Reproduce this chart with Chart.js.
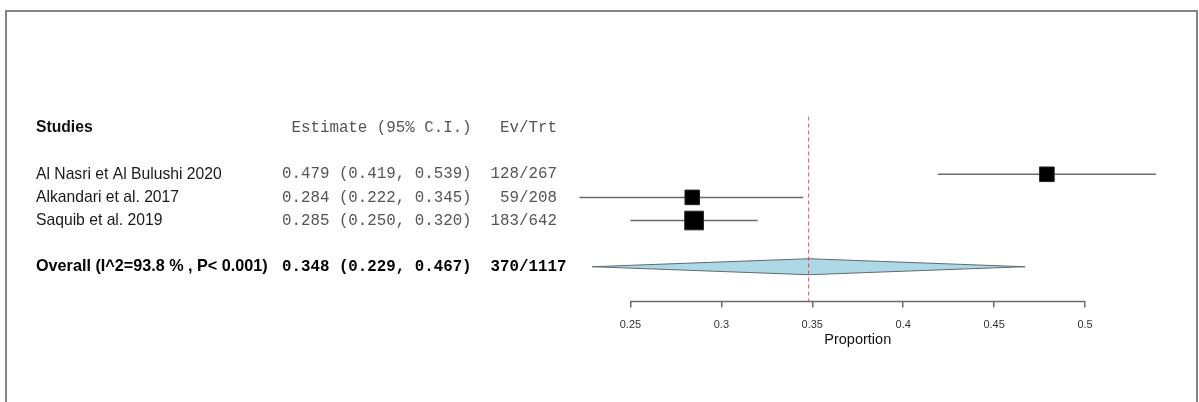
<!DOCTYPE html>
<html>
<head>
<meta charset="utf-8">
<script src="https://cdn.jsdelivr.net/npm/chart.js@4/dist/chart.umd.min.js"></script>
<style>
  body { margin: 0; background: #fff; }
  #marco {
    position: absolute; left: 5px; top: 10px; width: 1189px; height: 400px;
    border: 2px solid #858585; border-bottom: none; pointer-events: none;
  }
  #grafica { position: absolute; left: 0; top: 0; }
</style>
</head>
<body>
<canvas id="grafica" width="1199" height="402"></canvas>
<div id="marco"></div>
<script>
// datos del forest plot
const estudios = ['Al Nasri et Al Bulushi 2020', 'Alkandari et al. 2017', 'Saquib et al. 2019'];
const estimaciones = [0.479, 0.284, 0.285];
const limInf = [0.419, 0.222, 0.250];
const limSup = [0.539, 0.345, 0.320];
const eventos = [128, 59, 183];
const totales = [267, 208, 642];

const etiquetaGlobal = 'Overall (I^2=93.8 % , P< 0.001)';
const global = [0.348, 0.229, 0.467]; // estimacion, inferior, superior
const globalEv = [370, 1117];

const ticksX = [0.25, 0.3, 0.35, 0.4, 0.45, 0.5];

// estilo
const ladoCaja = [10.3, 10.3, 13.2]; // radio del punto 'rect'
const filaEstudio = i => i + 2;
const filaGlobal = 6;
const fuenteMono = '"Liberation Mono", "Courier New", monospace';
const fuenteSans = '"Liberation Sans", Arial, sans-serif';

function textoEstimacion(e, lo, hi) {
  return `${e.toFixed(3)} (${lo.toFixed(3)}, ${hi.toFixed(3)})`;
}

const datasets = [];

// linea de referencia (roja discontinua)
datasets.push({
  type: 'line',
  data: [{ x: global[0], y: -0.5 }, { x: global[0], y: 7.5 }],
  borderColor: 'rgba(232, 50, 50, 0.85)',
  borderWidth: 1,
  borderDash: [4, 3],
  pointRadius: 0,
  order: 0
});

// cajas
datasets.push({
  type: 'scatter',
  data: estimaciones.map((e, i) => ({ x: e, y: filaEstudio(i) })),
  pointStyle: 'rect',
  pointRadius: ladoCaja,
  backgroundColor: '#000',
  borderColor: '#222',
  borderWidth: 1,
  order: 1
});

// intervalos de confianza
estudios.forEach((nombre, i) => {
  datasets.push({
    type: 'line',
    data: [{ x: limInf[i], y: filaEstudio(i) }, { x: limSup[i], y: filaEstudio(i) }],
    borderColor: '#6a6a6a',
    borderWidth: 1.5,
    pointRadius: 0,
    order: 2
  });
});

// diamante + tabla de texto
const pluginForest = {
  id: 'forest',
  beforeDatasetsDraw(chart) {
    const { ctx, scales: { x, y } } = chart;
    const yc = y.getPixelForValue(filaGlobal);
    const h = 8;
    ctx.save();
    ctx.beginPath();
    ctx.moveTo(x.getPixelForValue(global[1]), yc);
    ctx.lineTo(x.getPixelForValue(global[0]), yc - h);
    ctx.lineTo(x.getPixelForValue(global[2]), yc);
    ctx.lineTo(x.getPixelForValue(global[0]), yc + h);
    ctx.closePath();
    ctx.fillStyle = '#add8e6';
    ctx.fill();
    ctx.strokeStyle = '#5f6b70';
    ctx.lineWidth = 1;
    ctx.stroke();

    // eje x solo entre el primer y ultimo tick
    const yb = chart.chartArea.bottom;
    ctx.beginPath();
    ctx.moveTo(x.getPixelForValue(ticksX[0]), yb);
    ctx.lineTo(x.getPixelForValue(ticksX[ticksX.length - 1]), yb);
    ctx.strokeStyle = '#6a6a6a';
    ctx.lineWidth = 1.5;
    ctx.stroke();
    ctx.restore();
  },
  afterDraw(chart) {
    const { ctx, scales: { y } } = chart;
    const xLabel = 36, xEst = 282;
    ctx.save();
    ctx.textBaseline = 'middle';

    // encabezados
    let yy = y.getPixelForValue(0);
    ctx.fillStyle = '#111';
    ctx.font = `bold 15.7px ${fuenteSans}`;
    ctx.fillText('Studies', xLabel, yy);
    ctx.fillStyle = '#555';
    ctx.font = `15.8px ${fuenteMono}`;
    ctx.fillText('Estimate (95% C.I.)'.padStart(20) + '  ' + 'Ev/Trt'.padStart(7), xEst, yy);

    // estudios
    estudios.forEach((nombre, i) => {
      yy = y.getPixelForValue(filaEstudio(i));
      ctx.fillStyle = '#1a1a1a';
      ctx.font = `15.7px ${fuenteSans}`;
      ctx.fillText(nombre, xLabel, yy);
      ctx.fillStyle = '#555';
      ctx.font = `15.8px ${fuenteMono}`;
      const ev = `${eventos[i]}/${totales[i]}`;
      ctx.fillText(textoEstimacion(estimaciones[i], limInf[i], limSup[i]) + '  ' + ev.padStart(7), xEst, yy);
    });

    // global
    yy = y.getPixelForValue(filaGlobal);
    ctx.fillStyle = '#000';
    ctx.font = `bold 16.2px ${fuenteSans}`;
    ctx.fillText(etiquetaGlobal, xLabel, yy);
    ctx.font = `bold 15.8px ${fuenteMono}`;
    ctx.fillText(textoEstimacion(global[0], global[1], global[2]) + '  ' + `${globalEv[0]}/${globalEv[1]}`.padStart(7), xEst, yy);
    ctx.restore();
  }
};

new Chart(document.getElementById('grafica'), {
  data: { datasets },
  options: {
    responsive: false,
    devicePixelRatio: 1,
    animation: false,
    layout: { padding: { left: 539.5, right: 23, top: 116.5, bottom: 50 } },
    plugins: { legend: { display: false }, tooltip: { enabled: false } },
    scales: {
      x: {
        type: 'linear',
        min: 0.2,
        max: 0.55,
        afterBuildTicks: scale => { scale.ticks = ticksX.map(v => ({ value: v })); },
        border: { display: false },
        grid: { drawOnChartArea: false, tickLength: 6, color: '#6a6a6a', lineWidth: 1.5 },
        ticks: {
          padding: 11,
          color: '#333',
          font: { family: fuenteSans, size: 11 },
          callback: v => String(+v.toFixed(2))
        },
        title: {
          display: true,
          text: 'Proportion',
          color: '#111',
          font: { family: fuenteSans, size: 14.5 },
          padding: { top: -11, bottom: 3 }
        }
      },
      y: { type: 'linear', reverse: true, min: -0.5, max: 7.5, display: false }
    }
  },
  plugins: [pluginForest]
});
</script>
</body>
</html>
